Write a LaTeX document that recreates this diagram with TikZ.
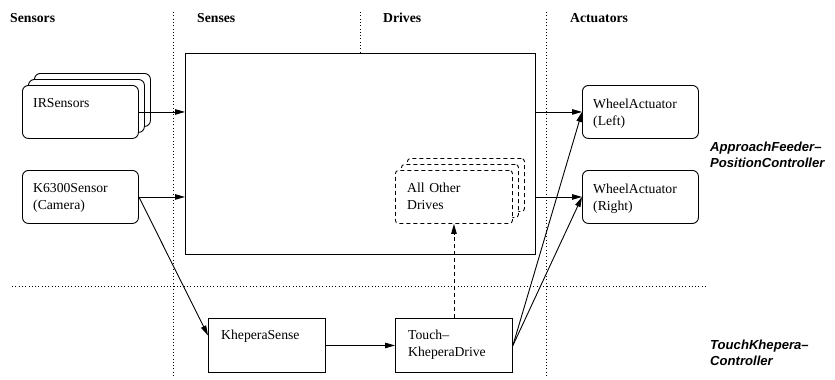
\documentclass[tikz,border=0pt]{standalone}
\usepackage{fontspec}
\setmainfont{Liberation Serif}
\newfontfamily\labelsans{Liberation Sans}
\usetikzlibrary{arrows.meta}
\begin{document}
\begin{tikzpicture}[x=1pt,y=-1pt,
  box/.style={draw, line width=0.9pt, inner sep=0pt, anchor=north west,
    minimum width=116pt, minimum height=53pt, fill=white},
  rbox/.style={box, rounded corners=6pt},
  dbox/.style={box, rounded corners=3pt, dash pattern=on 4pt off 3pt},
  txt/.style={anchor=base west, inner sep=0pt, text width=110pt, align=left,
    font=\fontsize{13.7}{17}\selectfont},
  hdr/.style={anchor=base west, inner sep=0pt, font=\fontsize{13.7}{17}\selectfont\bfseries},
  ctl/.style={anchor=base west, inner sep=0pt, text width=125pt, align=left,
    font=\labelsans\bfseries\itshape\fontsize{13.1}{16.5}\selectfont},
  guide/.style={line width=0.8pt, dash pattern=on 0.9pt off 2.4pt},
  arr/.style={line width=0.9pt, -{Triangle[length=10pt,width=5.5pt]}}
]
\fill[white] (0,0) rectangle (835,380);
\useasboundingbox (0,0) rectangle (835,380);

% layer separators
\draw[guide] (173,12) -- (173,378);
\draw[guide] (360,12) -- (360,53);
\draw[guide] (546,12) -- (546,378);
\draw[guide] (12,286) -- (708,286);

% column headings
\node[hdr] (hsensors) at (10,22) {Sensors};
\node[hdr] (hsenses) at (197,22) {Senses};
\node[hdr] (hdrives) at (383,22) {Drives};
\node[hdr] (hact) at (570,22) {Actuators};

% behaviour frame
\node[box, minimum width=350pt, minimum height=201pt, fill=none] (beh) at (185,53) {};

% sensors
\node[rbox] (irback) at (34,73) {};
\node[rbox] (irmid) at (28,79) {};
\node[rbox] (ir) at (22,85) {};
\node[txt] (irtext) at (33,107) {IRSensors};

\node[rbox] (k6) at (22,170) {};
\node[txt] (k6text) at (33,192) {K6300Sensor\\(Camera)};

% other drives
\node[dbox, minimum width=117pt] (aodback) at (407,158) {};
\node[dbox, minimum width=117pt] (aodmid) at (401,164) {};
\node[dbox, minimum width=117pt] (aod) at (395,170) {};
\node[txt] (aodtext) at (407,192) {All Other\\Drives};

% touch controller
\node[box, minimum width=117pt, minimum height=54pt] (ks) at (208,318) {};
\node[txt] (kstext) at (221,339) {KheperaSense};
\node[box, minimum width=117pt, minimum height=54pt] (td) at (395,318) {};
\node[txt] (tdtext) at (408,339) {Touch–\\KheperaDrive};

% actuators
\node[rbox] (wl) at (582,85) {};
\node[txt] (wltext) at (593,108) {WheelActuator\\(Left)};
\node[rbox] (wr) at (582,170) {};
\node[txt] (wrtext) at (593,193) {WheelActuator\\(Right)};

% controller names
\node[ctl] (ctlapp) at (710,151) {ApproachFeeder–\\PositionController};
\node[ctl] (ctltouch) at (710,349) {TouchKhepera–\\Controller};

% connections
\draw[arr] (ir.east) -- (ir.east -| beh.west);
\draw[arr] (k6.east) -- (k6.east -| beh.west);
\draw[arr] (k6.east) -- ([yshift=10pt]ks.west);
\draw[arr] (ks.east) -- (td.west);
\draw[arr, dash pattern=on 4pt off 3pt] (td.north) -- (aod.south);
\draw[arr] (td.east) -- (wl.west);
\draw[arr] (td.east) -- (wr.west);
\draw[arr] (wl.west -| beh.east) -- (wl.west);
\draw[arr] (wr.west -| beh.east) -- (wr.west);
\end{tikzpicture}
\end{document}
